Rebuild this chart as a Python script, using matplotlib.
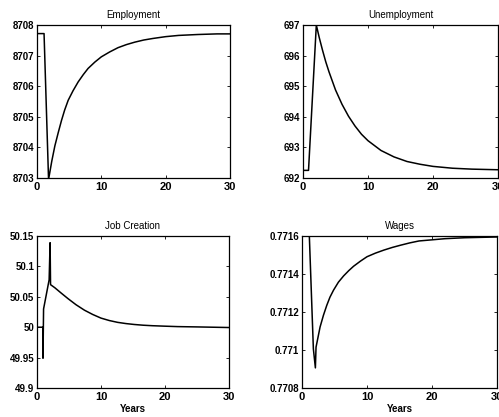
import matplotlib
matplotlib.use('Agg')
import matplotlib.pyplot as plt

# ---- simulated paths after the shock (years on the x axis) ----
emp_t = [0, 1.1, 1.8, 2.3, 2.78, 3.3, 3.81, 4.3, 4.85, 5.6, 6.4, 7.2, 7.94, 9, 10,
         11.3, 12.6, 13.9, 15.2, 16.6, 18, 20, 22, 25, 28, 30]
employment = [8707.72, 8707.72, 8702.95, 8703.55, 8704.05, 8704.48, 8704.88, 8705.22,
              8705.54, 8705.85, 8706.14, 8706.38, 8706.58, 8706.79, 8706.96, 8707.12,
              8707.26, 8707.36, 8707.44, 8707.51, 8707.56, 8707.62, 8707.66, 8707.69,
              8707.71, 8707.71]

unemp_t = [0, 0.85, 2.05, 2.5, 3, 3.5, 4, 5, 6, 7, 8, 9, 10, 12, 14, 16, 18, 20, 23, 26, 30]
unemployment = [692.25, 692.25, 697.0, 696.59, 696.18, 695.80, 695.47, 694.88, 694.41,
                694.02, 693.70, 693.43, 693.22, 692.90, 692.69, 692.54, 692.45, 692.38,
                692.32, 692.29, 692.27]

jc_t = [0, 0.93, 0.94, 1.03, 1.9, 2.05, 2.12, 2.78, 3.8, 4.85, 6.1, 7.42, 8.7, 10,
        11.3, 12.6, 13.9, 15.2, 16.6, 18, 20, 22, 25, 30]
job_creation = [50.0, 50.0, 49.949, 50.03, 50.078, 50.139, 50.07, 50.065, 50.056,
                50.047, 50.037, 50.028, 50.021, 50.015, 50.011, 50.008, 50.006,
                50.0045, 50.0033, 50.0025, 50.0017, 50.001, 50.0005, 49.9995]

wage_t = [0, 1.13, 1.75, 2.06, 2.16, 2.78, 3.3, 3.81, 4.3, 4.85, 5.6, 6.4, 7.2, 7.94,
          9, 10, 11.3, 12.6, 13.9, 15.2, 16.6, 18, 20, 22, 25, 30]
wages = [0.77160, 0.77160, 0.771006, 0.770906, 0.771015, 0.771121, 0.771183, 0.771235,
         0.771278, 0.771315, 0.771357, 0.771390, 0.771418, 0.771441, 0.771468, 0.771491,
         0.771510, 0.771526, 0.771540, 0.771552, 0.771564, 0.771574, 0.771580, 0.771586,
         0.771591, 0.771595]

titles = ['Employment', 'Unemployment', 'Job Creation', 'Wages']
yticks = [[8703, 8704, 8705, 8706, 8707, 8708],
          [692, 693, 694, 695, 696, 697],
          [49.9, 49.95, 50.0, 50.05, 50.1, 50.15],
          [0.7708, 0.7710, 0.7712, 0.7714, 0.7716]]
ytick_labels = [['8703', '8704', '8705', '8706', '8707', '8708'],
                ['692', '693', '694', '695', '696', '697'],
                ['49.9', '49.95', '50', '50.05', '50.1', '50.15'],
                ['0.7708', '0.771', '0.7712', '0.7714', '0.7716']]
xticks = [0, 10, 20, 30]

series = [(emp_t, employment), (unemp_t, unemployment),
          (jc_t, job_creation), (wage_t, wages)]

# axes boxes in figure fractions, MATLAB 2x2 layout
boxes = [[0.0741, 0.5731, 0.3868, 0.3669],
         [0.6072, 0.5731, 0.3908, 0.3669],
         [0.0741, 0.0695, 0.3848, 0.3645],
         [0.6052, 0.0695, 0.3908, 0.3645]]

plt.rcParams['font.family'] = ['Liberation Sans', 'DejaVu Sans']

fig = plt.figure(figsize=(4.99, 4.17), dpi=100)
fig.patch.set_facecolor('white')

for i in range(4):
    ax = fig.add_axes(boxes[i])
    t, y = series[i]
    ax.plot(t, y, color='black', lw=1.1)
    ax.set_xlim(0, 30)
    ax.set_ylim(yticks[i][0], yticks[i][-1])
    ax.set_xticks(xticks)
    ax.set_xticklabels([str(v) for v in xticks], fontsize=8, fontweight='bold')
    ax.set_yticks(yticks[i])
    ax.set_yticklabels(ytick_labels[i], fontsize=7, fontweight='bold')
    ax.tick_params(direction='in', length=2.5, width=0.6, top=True, right=True, pad=2)
    ax.tick_params(axis='x', pad=3)
    for s in ax.spines.values():
        s.set_linewidth(0.9)
        s.set_color('black')
    ax.set_title(titles[i], fontsize=7, pad=5)
    if i >= 2:
        ax.set_xlabel('Years', fontsize=7, fontweight='bold', labelpad=1)

fig.savefig('out.png', dpi=100, facecolor='white')
